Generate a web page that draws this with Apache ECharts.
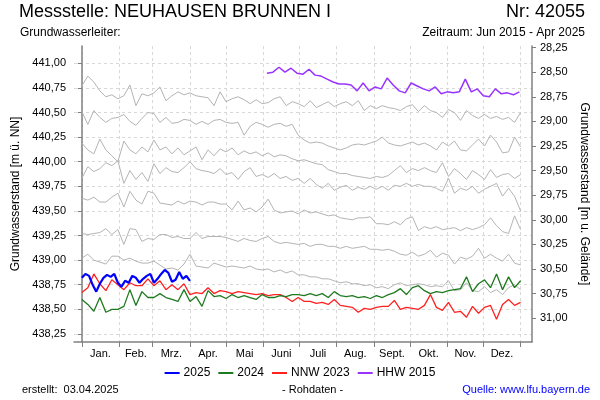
<!DOCTYPE html>
<html>
<head>
<meta charset="utf-8">
<script src="https://cdn.jsdelivr.net/npm/echarts@6/dist/echarts.min.js"></script>
<style>html,body{margin:0;padding:0;background:#fff}#c{width:600px;height:400px}</style>
</head>
<body>
<div id="c"></div>
<script>
// ---------- data ----------
const monthNames = ['Jan.', 'Feb.', 'Mrz.', 'Apr.', 'Mai', 'Juni', 'Juli', 'Aug.', 'Sept.', 'Okt.', 'Nov.', 'Dez.'];
const monthStarts = [0, 31, 59, 90, 120, 151, 181, 212, 243, 273, 304, 334, 365];
const levelTicks = [438.25, 438.50, 438.75, 439.00, 439.25, 439.50, 439.75, 440.00, 440.25, 440.50, 440.75, 441.00];
const depthTicks = [28.25, 28.50, 28.75, 29.00, 29.25, 29.50, 29.75, 30.00, 30.25, 30.50, 30.75, 31.00];
const groundLevel = 469.41;

// day-of-year sampling: start day and step (days)
const stepFull = 5;

// 2025 (blue), every 3 days from 1 Jan
const y2025 = [438.82, 438.86, 438.84, 438.75, 438.68, 438.76, 438.82, 438.85, 438.83, 438.86, 438.77,
  438.73, 438.79, 438.77, 438.84, 438.82, 438.77, 438.81, 438.84, 438.86, 438.77, 438.81, 438.86,
  438.90, 438.87, 438.78, 438.80, 438.88, 438.81, 438.84, 438.79];

// 2024 (green), every 5 days
const y2024 = [438.60, 438.55, 438.48, 438.62, 438.47, 438.50, 438.50, 438.53, 438.70, 438.54,
  438.68, 438.62, 438.62, 438.66, 438.62, 438.60, 438.58, 438.70, 438.58, 438.63,
  438.53, 438.69, 438.63, 438.64, 438.61, 438.65, 438.62, 438.64, 438.62, 438.60,
  438.65, 438.62, 438.62, 438.64, 438.63, 438.65, 438.65, 438.64, 438.66, 438.64,
  438.66, 438.62, 438.68, 438.64, 438.63, 438.64, 438.62, 438.63, 438.61, 438.64,
  438.62, 438.65, 438.67, 438.71, 438.65, 438.72, 438.74, 438.69, 438.66, 438.68,
  438.67, 438.69, 438.70, 438.71, 438.83, 438.68, 438.76, 438.80, 438.72, 438.86,
  438.70, 438.83, 438.72, 438.79];

// NNW 2023 (red), every 5 days
const nnw2023 = [438.67, 438.72, 438.86, 438.76, 438.69, 438.80, 438.75, 438.70, 438.77, 438.74,
  438.74, 438.81, 438.74, 438.79, 438.70, 438.75, 438.70, 438.76, 438.65, 438.67,
  438.66, 438.72, 438.66, 438.69, 438.68, 438.66, 438.68, 438.67, 438.66, 438.65,
  438.66, 438.64, 438.65, 438.65, 438.62, 438.58, 438.62, 438.58, 438.58, 438.56,
  438.57, 438.55, 438.60, 438.54, 438.53, 438.52, 438.47, 438.51, 438.50, 438.52,
  438.53, 438.53, 438.59, 438.50, 438.52, 438.51, 438.50, 438.54, 438.65, 438.52,
  438.49, 438.57, 438.47, 438.48, 438.42, 438.53, 438.46, 438.52, 438.54, 438.40,
  438.55, 438.60, 438.54, 438.57];

// HHW 2015 (purple), every 5 days from day 154
const hhw2015Start = 154;
const hhw2015 = [440.90, 440.91, 440.96, 440.91, 440.95, 440.90, 440.89, 440.94, 440.88, 440.87,
  440.84, 440.81, 440.79, 440.79, 440.78, 440.72, 440.80, 440.72, 440.76, 440.74,
  440.85, 440.78, 440.72, 440.70, 440.80, 440.77, 440.74, 440.72, 440.76, 440.69,
  440.71, 440.70, 440.71, 440.84, 440.71, 440.74, 440.67, 440.66, 440.74, 440.69,
  440.70, 440.68, 440.71];

// other years (grey), every 5 days
const hist1 = [440.77, 440.87, 440.81, 440.72, 440.66, 440.68, 440.64, 440.67, 440.78, 440.57,
  440.69, 440.67, 440.70, 440.76, 440.62, 440.67, 440.71, 440.68, 440.70, 440.67,
  440.66, 440.65, 440.57, 440.71, 440.61, 440.64, 440.66, 440.63, 440.59, 440.63,
  440.59, 440.60, 440.64, 440.66, 440.57, 440.61, 440.59, 440.56, 440.62, 440.55,
  440.58, 440.61, 440.56, 440.59, 440.61, 440.57, 440.62, 440.52, 440.57, 440.54,
  440.57, 440.55, 440.54, 440.52, 440.56, 440.58, 440.51, 440.57, 440.52, 440.50,
  440.45, 440.53, 440.50, 440.42, 440.52, 440.47, 440.44, 440.48, 440.44, 440.46,
  440.43, 440.45, 440.40, 440.50];
const hist2 = [440.51, 440.38, 440.52, 440.45, 440.40, 440.44, 440.45, 440.48, 440.41, 440.37,
  440.44, 440.50, 440.49, 440.40, 440.45, 440.39, 440.40, 440.43, 440.42, 440.38,
  440.41, 440.38, 440.42, 440.43, 440.40, 440.39, 440.40, 440.27, 440.36, 440.40,
  440.38, 440.35, 440.38, 440.39, 440.36, 440.38, 440.27, 440.22, 440.19, 440.20,
  440.19, 440.16, 440.14, 440.12, 440.14, 440.17, 440.18, 440.17, 440.19, 440.21,
  440.25, 440.19, 440.17, 440.16, 440.18, 440.20, 440.17, 440.19, 440.16, 440.12,
  440.20, 440.16, 440.21, 440.12, 440.11, 440.17, 440.23, 440.16, 440.27, 440.20,
  440.09, 440.10, 440.25, 440.15];
const hist3 = [440.19, 440.12, 440.08, 440.23, 440.12, 440.06, 440.00, 440.21, 440.12, 440.08,
  440.15, 440.10, 440.22, 440.12, 440.15, 440.08, 440.14, 440.07, 440.11, 440.15,
  440.02, 440.12, 440.06, 440.13, 440.10, 440.14, 440.07, 440.11, 440.08, 440.10,
  440.06, 440.09, 440.05, 440.07, 440.06, 440.03, 440.01, 440.02, 440.00, 439.98,
  439.97, 439.92, 439.90, 439.88, 439.88, 439.86, 439.85, 439.84, 439.83, 439.85,
  439.84, 439.86, 439.91, 439.96, 439.89, 439.93, 439.91, 439.94, 439.91, 439.89,
  439.99, 439.85, 439.93, 439.88, 439.82, 439.91, 439.87, 439.82, 439.92, 439.84,
  439.87, 439.88, 439.83, 439.87];
const hist4 = [439.83, 439.95, 439.90, 439.93, 439.99, 439.96, 440.01, 439.78, 439.91, 439.82,
  439.89, 439.80, 439.98, 439.88, 439.94, 439.90, 439.89, 439.94, 440.00, 439.93,
  439.91, 439.90, 439.88, 439.93, 439.87, 439.89, 439.82, 439.90, 439.94, 439.85,
  439.87, 439.84, 439.88, 439.83, 439.85, 439.81, 439.83, 439.78, 439.83, 439.77,
  439.73, 439.78, 439.71, 439.74, 439.76, 439.71, 439.74, 439.72, 439.75, 439.72,
  439.75, 439.71, 439.76, 439.75, 439.78, 439.75, 439.77, 439.75, 439.75, 439.73,
  439.70, 439.83, 439.68, 439.73, 439.71, 439.75, 439.68, 439.72, 439.75, 439.78,
  439.65, 439.73, 439.65, 439.50];
const hist5 = [439.63, 439.61, 439.64, 439.59, 439.59, 439.64, 439.68, 439.54, 439.70, 439.61,
  439.57, 439.70, 439.68, 439.58, 439.57, 439.56, 439.60, 439.57, 439.60, 439.59,
  439.56, 439.59, 439.59, 439.57, 439.57, 439.51, 439.60, 439.51, 439.53, 439.49,
  439.54, 439.62, 439.51, 439.48, 439.49, 439.50, 439.47, 439.51, 439.48, 439.49,
  439.47, 439.45, 439.46, 439.43, 439.42, 439.41, 439.43, 439.43, 439.44, 439.37,
  439.37, 439.36, 439.39, 439.36, 439.42, 439.44, 439.30, 439.34, 439.32, 439.34,
  439.31, 439.32, 439.33, 439.30, 439.33, 439.31, 439.33, 439.36, 439.43, 439.35,
  439.29, 439.27, 439.45, 439.31];
const hist6 = [439.27, 439.26, 439.27, 439.28, 439.32, 439.26, 439.31, 439.16, 439.32, 439.31,
  439.19, 439.22, 439.21, 439.26, 439.26, 439.23, 439.24, 439.22, 439.22, 439.28,
  439.22, 439.24, 439.24, 439.24, 439.23, 439.21, 439.19, 439.22, 439.20, 439.19,
  439.22, 439.24, 439.19, 439.17, 439.18, 439.17, 439.16, 439.17, 439.14, 439.16,
  439.16, 439.14, 439.14, 439.12, 439.14, 439.12, 439.13, 439.14, 439.11, 439.11,
  439.10, 439.11, 439.09, 439.06, 439.05, 439.08, 439.04, 439.06, 439.10, 439.03,
  439.07, 439.05, 438.96, 439.03, 439.01, 439.04, 439.12, 439.02, 439.06, 439.02,
  438.99, 439.06, 438.97, 438.95];
const hist7 = [439.02, 439.06, 439.00, 438.98, 438.96, 439.04, 439.04, 439.00, 439.02, 438.99,
  438.97, 438.97, 438.99, 438.95, 438.91, 438.92, 438.90, 438.96, 439.06, 438.94,
  438.93, 438.92, 438.97, 438.95, 438.93, 438.94, 438.93, 438.92, 438.94, 438.91,
  438.90, 438.91, 438.88, 438.90, 438.87, 438.89, 438.85, 438.85, 438.83, 438.83,
  438.81, 438.81, 438.79, 438.77, 438.78, 438.76, 438.76, 438.74, 438.75, 438.72,
  438.73, 438.71, 438.75, 438.77, 438.74, 438.75, 438.76, 438.75, 438.73, 438.74,
  438.73, 438.79, 438.69, 438.70, 438.77, 438.69, 438.68, 438.73, 438.67, 438.70,
  438.65, 438.72, 438.75, 438.70];
const histYears = [hist1, hist2, hist3, hist4, hist5, hist6, hist7];

// ---------- chart ----------
const FONT = '"Liberation Sans", Arial, sans-serif';
function pairs(values, start, step) {
  return values.map((v, i) => [start + i * step, v]);
}
const monthMids = monthStarts.slice(0, 12).map((d, i) => (d + monthStarts[i + 1]) / 2);
const comma = v => v.toFixed(2).replace('.', ',');

const greySeries = histYears.map((arr, i) => ({
  name: 'hist' + (i + 1), type: 'line', data: pairs(arr, 0, stepFull),
  showSymbol: false, silent: true, z: 1,
  lineStyle: { color: '#b4b4b4', width: 1 }
}));

const chart = echarts.init(document.getElementById('c'), null, { renderer: 'canvas' });
chart.setOption({
  animation: false,
  backgroundColor: '#fff',
  textStyle: { fontFamily: FONT },
  title: [
    { text: 'Messstelle: NEUHAUSEN BRUNNEN I', left: 19, top: 3, padding: 0,
      textStyle: { fontSize: 18, fontWeight: 'normal', color: '#000', fontFamily: FONT } },
    { text: 'Nr: 42055', right: 15, top: 3, padding: 0,
      textStyle: { fontSize: 18, fontWeight: 'normal', color: '#000', fontFamily: FONT } },
    { text: 'Grundwasserleiter:', left: 20, top: 27, padding: 0,
      textStyle: { fontSize: 12, fontWeight: 'normal', color: '#000', fontFamily: FONT } },
    { text: 'Zeitraum: Jun 2015 - Apr 2025', right: 15, top: 27, padding: 0,
      textStyle: { fontSize: 12, fontWeight: 'normal', color: '#000', fontFamily: FONT } },
    { text: 'erstellt:  03.04.2025', left: 22, top: 384, padding: 0,
      textStyle: { fontSize: 11, fontWeight: 'normal', color: '#000', fontFamily: FONT } },
    { text: '- Rohdaten -', left: 282, top: 384, padding: 0,
      textStyle: { fontSize: 11, fontWeight: 'normal', color: '#000', fontFamily: FONT } },
    { text: 'Quelle: www.lfu.bayern.de', right: 10, top: 384, padding: 0,
      textStyle: { fontSize: 11, fontWeight: 'normal', color: '#0000ff', fontFamily: FONT } }
  ],
  legend: {
    data: ['2025', '2024', 'NNW 2023', 'HHW 2015'],
    left: 'center', top: 367, itemWidth: 15, itemHeight: 2, itemGap: 8,
    icon: 'rect', padding: 0,
    textStyle: { fontSize: 12, color: '#000', fontFamily: FONT, padding: [0, 0, 0, -1] }
  },
  grid: { left: 74, right: 68, top: 46, bottom: 58, containLabel: false },
  xAxis: {
    type: 'value', min: -6.5, max: 374.5,
    axisLine: { show: true, lineStyle: { color: '#808080', width: 1.5 } },
    axisTick: { show: true, customValues: monthStarts, length: 5, lineStyle: { color: '#808080' } },
    axisLabel: { customValues: monthMids, margin: 6, fontSize: 11, color: '#000', fontFamily: FONT,
      formatter: v => { const i = monthMids.findIndex(m => Math.abs(m - v) < 0.01); return i >= 0 ? monthNames[i] : ''; } },
    splitLine: { show: true, lineStyle: { color: '#d8d8d8', type: [3, 3], width: 1 } }
  },
  yAxis: [
    {
      type: 'value', min: 438.168, max: 441.176, position: 'left',
      name: 'Grundwasserstand [m ü. NN]', nameLocation: 'middle', nameGap: 47, nameRotate: 90,
      nameTextStyle: { fontSize: 12, color: '#000', fontFamily: FONT },
      axisLine: { show: true, lineStyle: { color: '#808080', width: 1.5 } },
      axisTick: { show: true, customValues: levelTicks, length: 4, lineStyle: { color: '#808080' } },
      axisLabel: { customValues: levelTicks, margin: 8, fontSize: 11, color: '#000', fontFamily: FONT, formatter: comma },
      splitLine: { show: true, lineStyle: { color: '#d8d8d8', type: [3, 3], width: 1 } }
    },
    {
      type: 'value', min: groundLevel - 441.176, max: groundLevel - 438.168, inverse: true, position: 'right',
      name: 'Grundwasserstand [m u. Gelände]', nameLocation: 'middle', nameGap: 44, nameRotate: -90,
      nameTextStyle: { fontSize: 12, color: '#000', fontFamily: FONT },
      axisLine: { show: true, lineStyle: { color: '#808080', width: 1.5 } },
      axisTick: { show: true, customValues: depthTicks, length: 4, lineStyle: { color: '#808080' } },
      axisLabel: { customValues: depthTicks, margin: 8, fontSize: 11, color: '#000', fontFamily: FONT, formatter: comma },
      splitLine: { show: false }
    }
  ],
  series: greySeries.concat([
    { name: 'HHW 2015', type: 'line', data: pairs(hhw2015, hhw2015Start, stepFull), showSymbol: false, z: 3,
      color: '#9933ff', lineStyle: { color: '#9933ff', width: 1.5 } },
    { name: 'NNW 2023', type: 'line', data: pairs(nnw2023, 0, stepFull), showSymbol: false, z: 3,
      color: '#ff2020', lineStyle: { color: '#ff2020', width: 1.3 } },
    { name: '2024', type: 'line', data: pairs(y2024, 0, stepFull), showSymbol: false, z: 4,
      color: '#1e7a1e', lineStyle: { color: '#1e7a1e', width: 1.3 } },
    { name: '2025', type: 'line', data: pairs(y2025, 0, 3), showSymbol: false, z: 5,
      color: '#0000ff', lineStyle: { color: '#0000ff', width: 2.2 } }
  ])
});
</script>
</body>
</html>
